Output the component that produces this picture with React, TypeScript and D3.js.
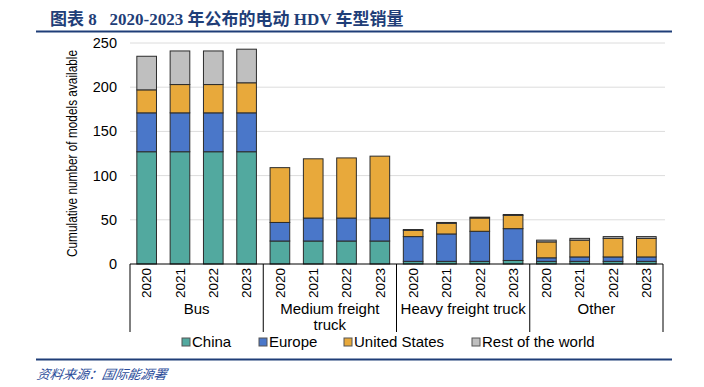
import * as d3 from 'd3';
import React from 'react';

const groups = ['Bus', 'Medium freight truck', 'Heavy freight truck', 'Other'];
const groupLines = [['Bus'], ['Medium freight', 'truck'], ['Heavy freight truck'], ['Other']];
const years = ['2020', '2021', '2022', '2023'];

// one value per bar, in order: group by group, year by year
const china = [127, 127, 127, 127, 26, 26, 26, 26, 3, 3, 3, 4, 3, 3, 3, 3];
const europe = [44, 44, 44, 44, 21, 26, 26, 26, 28, 31, 34, 36, 4, 5, 5, 5];
const unitedStates = [26, 32, 32, 34, 62, 67, 68, 70, 7, 12, 15, 15, 18, 19, 21, 21];
const restOfWorld = [38, 38, 38, 38, 0, 0, 0, 0, 1, 1, 1, 1, 2, 2, 2, 2];

const seriesNames = ['China', 'Europe', 'United States', 'Rest of the world'];
const seriesColors = ['#52A99F', '#4A77C9', '#E8A93B', '#BFBFBF'];
const yTicks = [0, 50, 100, 150, 200, 250];

const W = 704;
const H = 387;
const margin = { top: 43, right: 41, bottom: 123, left: 130 };

export default function App() {
  const keys = groups.flatMap(g => years.map(y => `${g}|${y}`));
  const rows = keys.map((k, i) => ({
    key: k,
    China: china[i],
    Europe: europe[i],
    'United States': unitedStates[i],
    'Rest of the world': restOfWorld[i],
  }));
  const stack = d3.stack<any>().keys(seriesNames);
  const layers = stack(rows);

  const x = d3.scaleBand().domain(keys).range([margin.left, W - margin.right]).paddingInner(0.41).paddingOuter(0.205);
  const y = d3.scaleLinear().domain([0, 250]).range([H - margin.bottom, margin.top]);
  const step = x.step();
  const y0 = y(0);
  const groupEdge = (gi: number) => margin.left + gi * step * years.length;

  const font = '"Liberation Sans", Arial, sans-serif';
  const titleColor = '#1F3E78';
  const legendX = [182, 259, 344, 472];

  return (
    <svg width={W} height={H} style={{ position: 'absolute', left: 0, top: 0, background: '#fff' }}>
      {/* title */}
      <text x={50} y={25} fontSize={17} fontWeight="bold" fill={titleColor}
        fontFamily='"Liberation Serif", "Noto Sans CJK SC", serif'>
        图表 8{'\u00a0\u00a0\u00a0'}2020-2023 年公布的电动 HDV 车型销量
      </text>
      <line x1={36} x2={672} y1={31.5} y2={31.5} stroke={titleColor} strokeWidth={2} />

      {/* grid */}
      {yTicks.filter(t => t > 0).map(t => (
        <line key={t} x1={margin.left} x2={W - margin.right + 2} y1={y(t)} y2={y(t)} stroke="#DCDCDC" strokeWidth={1} />
      ))}
      {yTicks.map(t => (
        <text key={t} x={117} y={y(t)} dy="0.35em" textAnchor="end" fontSize={14.5} fontFamily={font} fill="#000">
          {t}
        </text>
      ))}
      <text transform={`translate(77,${(y(0) + y(250)) / 2}) rotate(-90)`} textAnchor="middle" fontSize={14}
        textLength={207} lengthAdjust="spacingAndGlyphs" fontFamily={font} fill="#000">
        Cumulative number of models available
      </text>

      {/* bars */}
      {layers.map((layer, li) => (
        <g key={layer.key} fill={seriesColors[li]} stroke="#2B2B2B" strokeWidth={1}>
          {layer.map((d, i) =>
            d[1] - d[0] > 0 ? (
              <rect key={i} x={x(keys[i])} width={x.bandwidth()} y={y(d[1])} height={y(d[0]) - y(d[1])} />
            ) : null
          )}
        </g>
      ))}

      {/* category axis */}
      <line x1={margin.left} x2={W - margin.right} y1={y0} y2={y0} stroke="#000" strokeWidth={1} />
      {groups.map((g, gi) => (
        <line key={g} x1={groupEdge(gi)} x2={groupEdge(gi)} y1={y0} y2={332} stroke="#000" strokeWidth={1} />
      ))}
      <line x1={groupEdge(groups.length)} x2={groupEdge(groups.length)} y1={y0} y2={332} stroke="#000" strokeWidth={1} />
      {keys.map(k => (
        <text key={k} transform={`translate(${(x(k) as number) + x.bandwidth() / 2},${y0 + 4}) rotate(-90)`}
          textAnchor="end" dy="0.35em" fontSize={13.5} fontFamily={font} fill="#000">
          {k.split('|')[1]}
        </text>
      ))}
      {groupLines.map((lines, gi) => (
        <text key={gi} x={groupEdge(gi) + (step * years.length) / 2} y={314} textAnchor="middle" fontSize={15}
          fontFamily={font} fill="#000">
          {lines.map((l, li) => (
            <tspan key={li} x={groupEdge(gi) + (step * years.length) / 2} dy={li === 0 ? 0 : 16}>{l}</tspan>
          ))}
        </text>
      ))}

      {/* legend */}
      {seriesNames.map((s, i) => (
        <g key={s} transform={`translate(${legendX[i]},342)`}>
          <rect x={0} y={-4} width={8} height={8} fill={seriesColors[i]} stroke="#555" strokeWidth={1} />
          <text x={10} y={0} dy="0.35em" fontSize={15} fontFamily={font} fill="#000">{s}</text>
        </g>
      ))}

      {/* footer */}
      <line x1={36} x2={672} y1={359.5} y2={359.5} stroke={titleColor} strokeWidth={2} />
      <text x={37} y={379} fontSize={13} fontStyle="italic" fill="#2A4C9A" fontFamily='"Noto Sans CJK SC", sans-serif'
        transform="skewX(-10) translate(66,0)">
        资料来源：国际能源署
      </text>
    </svg>
  );
}
